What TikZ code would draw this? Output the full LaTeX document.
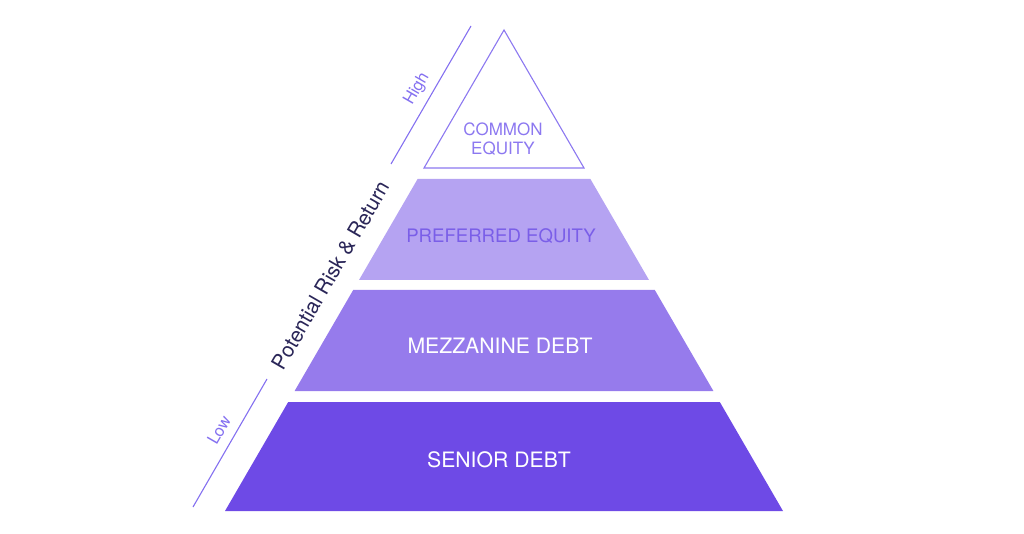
\documentclass[tikz,border=0pt]{standalone}
\usepackage{fontspec}
\setmainfont{TeX Gyre Heros}
\definecolor{seniorfill}{RGB}{110,74,230}
\definecolor{mezzfill}{RGB}{150,123,236}
\definecolor{preffill}{RGB}{181,163,242}
\definecolor{triline}{RGB}{140,120,240}
\definecolor{prefText}{RGB}{122,94,232}
\definecolor{axisline}{RGB}{132,112,240}
\definecolor{axistext}{RGB}{42,38,88}
\tikzset{
  lbl/.style={anchor=base, inner sep=0pt, font=\fontsize{21.2}{24}\selectfont},
  axisseg/.style={draw=axisline, line width=1.1pt},
  axislbl/.style={rotate=60, inner sep=0pt, text=axisline, font=\fontsize{16.5}{18}\selectfont},
}
\begin{document}
\begin{tikzpicture}[x=1pt,y=-1pt]
\useasboundingbox (0,0) rectangle (1024,534);
% common equity triangle
\draw[draw=triline, line width=1.1pt, line join=miter] (504,30) -- (424,168) -- (584,168) -- cycle;
\node[lbl, text=triline, font=\fontsize{17}{19}\selectfont] (commonA) at (503,136) {COMMON};
\node[lbl, text=triline, font=\fontsize{17}{19}\selectfont] (commonB) at (503,155) {EQUITY};
% preferred equity
\fill[preffill] (417.6,179) -- (590.4,179) -- (649,280) -- (359,280) -- cycle;
\node[lbl, text=prefText, font=\fontsize{18.6}{22}\selectfont] (pref) at (501,243) {PREFERRED EQUITY};
% mezzanine debt
\fill[mezzfill] (353.2,290) -- (654.8,290) -- (713.4,391) -- (294.6,391) -- cycle;
\node[lbl, text=white] (mezz) at (500,353) {MEZZANINE DEBT};
% senior debt
\fill[seniorfill] (288.2,402) -- (719.8,402) -- (783,511) -- (225,511) -- cycle;
\node[lbl, text=white] (senior) at (499,467) {SENIOR DEBT};
% axis
\coordinate (hiTop) at (471,26);
\coordinate (hiBot) at (391,164);
\coordinate (loTop) at (267,379);
\coordinate (loBot) at (193,507);
\draw[axisseg] (hiTop) -- (hiBot);
\draw[axisseg] (loTop) -- (loBot);
\node[axislbl] (high) at (417,89) {High};
\node[axislbl] (low) at (219,430) {Low};
\node[rotate=60, inner sep=0pt, text=axistext, font=\fontsize{20.8}{24}\selectfont] (axis) at (331,275) {Potential Risk \& Return};
\end{tikzpicture}
\end{document}
